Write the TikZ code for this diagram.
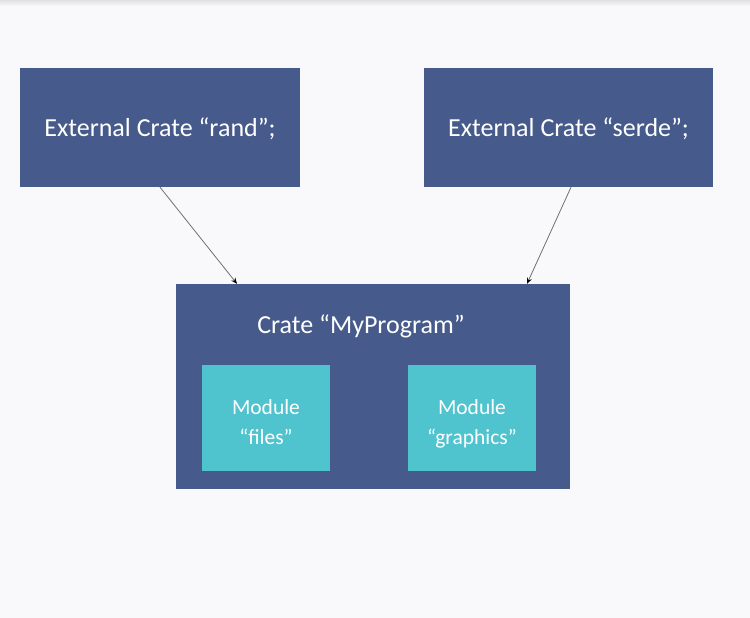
\documentclass[tikz,border=0pt]{standalone}
\usepackage{fontspec}
\setmainfont{Carlito}
\usetikzlibrary{arrows.meta}
\definecolor{bg}{HTML}{F9F9FB}
\definecolor{navy}{HTML}{465A8B}
\definecolor{teal}{HTML}{4FC3CE}
\definecolor{linegray}{HTML}{707070}
\begin{document}
\begin{tikzpicture}[x=1pt,y=-1pt,
  bigbox/.style={draw=none,fill=navy,text=white,inner sep=0pt,font=\fontsize{26}{30}\selectfont},
  bigtext/.style={text=white,inner sep=0pt,font=\fontsize{26}{30}\selectfont},
  modbox/.style={draw=none,fill=teal,inner sep=0pt,minimum width=128pt,minimum height=106pt},
  modtext/.style={text=white,inner sep=0pt,align=center,font=\fontsize{21.5}{30}\selectfont},
  arr/.style={draw=linegray,line width=0.8pt,-{Stealth[length=6pt,width=5pt,black]}}]
\fill[bg] (0,0) rectangle (750,618);
\shade[top color=black!12,bottom color=bg] (0,0) rectangle (750,6);
\useasboundingbox (0,0) rectangle (750,618);
\node[bigbox,minimum width=280pt,minimum height=119pt] (rand) at (160,127.5) {};
\node[bigtext] (randt) at (160,129) {External Crate “rand”;};
\node[bigbox,minimum width=289pt,minimum height=119pt] (serde) at (568.5,127.5) {};
\node[bigtext] (serdet) at (568.5,129) {External Crate “serde”;};
\node[bigbox,minimum width=394pt,minimum height=205pt] (prog) at (373,386.5) {};
\node[bigtext] (title) at (361,326) {Crate “MyProgram”};
\node[modbox] (files) at (266,418) {};
\node[modtext] (filest) at (266,422) {Module\\“files”};
\node[modbox] (graphics) at (472,418) {};
\node[modtext] (graphicst) at (472,424) {Module\\“graphics”};
\draw[arr] (rand.south) -- ([xshift=-136pt]prog.north);
\draw[arr] ([xshift=2.5pt]serde.south) -- ([xshift=154pt]prog.north);
\end{tikzpicture}
\end{document}
